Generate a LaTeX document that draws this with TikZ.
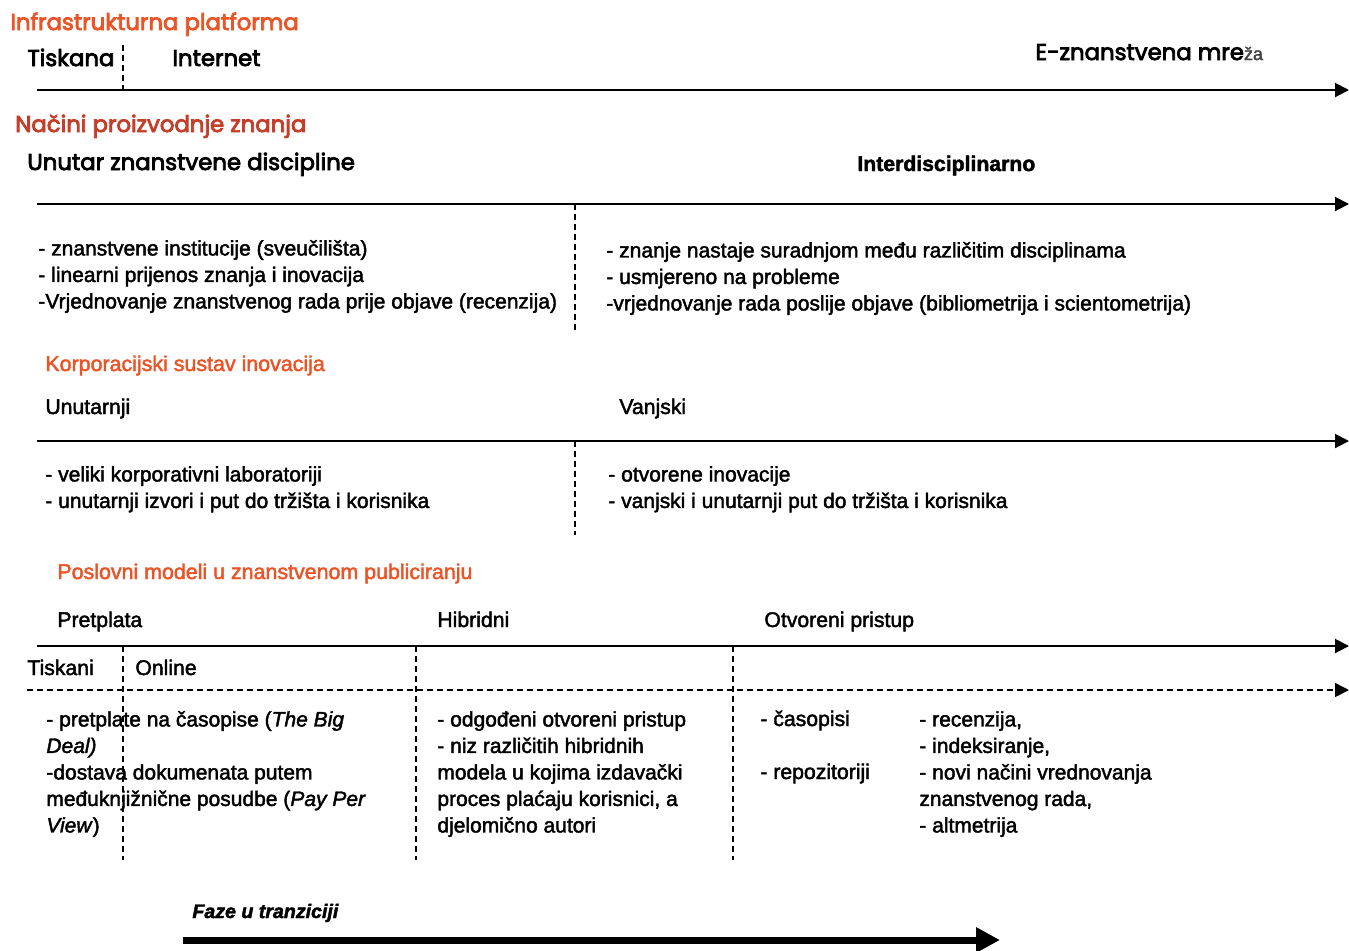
\documentclass[tikz,border=0pt]{standalone}
\usepackage{fontspec}
\setmainfont{Liberation Sans}[FakeBold=2]
\newfontfamily\bodyfont{Liberation Sans}[FakeBold=2]
\newfontfamily\headfont{Poppins}[FakeBold=3.5]
\usetikzlibrary{arrows.meta}
\definecolor{naslovboja}{RGB}{234,84,38}
\definecolor{tamnaboja}{RGB}{196,62,42}

\begin{document}
\begin{tikzpicture}[x=0.5pt, y=-0.5pt,
    os/.style={line width=1pt, -{Triangle[length=7pt,width=7pt]}},
    crta/.style={line width=0.8pt, dash pattern=on 3pt off 2pt},
    glava/.style={anchor=base west, inner sep=0pt, font=\headfont\fontsize{11.4}{13}\selectfont},
    naslov/.style={anchor=base west, inner sep=0pt, text=naslovboja, font=\bodyfont\fontsize{10.7}{12}\selectfont},
    faza/.style={anchor=base west, inner sep=0pt, font=\bodyfont\fontsize{10.6}{13.25}\selectfont},
    tekst/.style={anchor=north west, inner sep=0pt, align=left, font=\bodyfont\fontsize{10.5}{13.25}\selectfont}]
\useasboundingbox (0,0) rectangle (1349,950);

\node[glava, text=naslovboja] (infra) at (10,30) {Infrastrukturna platforma};
\node[glava] (tiskana) at (27,66) {Tiskana};
\node[glava] (internet) at (172,66) {Internet};
\node[glava] (emreza) at (1035,60) {E-znanstvena mre{\bodyfont\fontsize{9}{10}\selectfont\color{black!75}ža}};
\coordinate (os1a) at (37,90);
\coordinate (os1b) at (1349,90);
\coordinate (d1a) at (123,45);
\coordinate (d1b) at (123,90);
\draw[os] (os1a) -- (os1b);
\draw[crta] (d1a) -- (d1b);

\node[glava, text=tamnaboja] (nacini) at (15,132) {Načini proizvodnje znanja};
\node[glava] (unutar) at (27,170) {Unutar znanstvene discipline};
\node[faza, font=\bodyfont\bfseries\fontsize{10.6}{13}\selectfont] (inter) at (857,171) {Interdisciplinarno};
\coordinate (os2a) at (37,204);
\coordinate (os2b) at (1349,204);
\coordinate (d2a) at (575,204);
\coordinate (d2b) at (575,330);
\draw[os] (os2a) -- (os2b);
\draw[crta] (d2a) -- (d2b);
\node[tekst] (disc) at (38,236.5) {\strut- znanstvene institucije (sveučilišta)\\- linearni prijenos znanja i inovacija\\-Vrjednovanje znanstvenog rada prije objave (recenzija)};
\node[tekst] (interdisc) at (606,238.5) {\strut- znanje nastaje suradnjom među različitim disciplinama\\- usmjereno na probleme\\-vrjednovanje rada poslije objave (bibliometrija i scientometrija)};

\node[naslov] (korp) at (45,371) {Korporacijski sustav inovacija};
\node[faza] (unutarnji) at (45,414) {Unutarnji};
\node[faza] (vanjski) at (619,414) {Vanjski};
\coordinate (os3a) at (37,441);
\coordinate (os3b) at (1349,441);
\coordinate (d3a) at (575,441);
\coordinate (d3b) at (575,535);
\draw[os] (os3a) -- (os3b);
\draw[crta] (d3a) -- (d3b);
\node[tekst] (unutarnjitxt) at (45,462.5) {\strut- veliki korporativni laboratoriji\\- unutarnji izvori i put do tržišta i korisnika};
\node[tekst] (vanjskitxt) at (608,462.5) {\strut- otvorene inovacije\\- vanjski i unutarnji put do tržišta i korisnika};

\node[naslov] (modeli) at (57,579) {Poslovni modeli u znanstvenom publiciranju};
\node[faza] (pretplata) at (57,627) {Pretplata};
\node[faza] (hibridni) at (437,627) {Hibridni};
\node[faza] (otvoreni) at (764,627) {Otvoreni pristup};
\node[faza] (tiskani) at (27,675) {Tiskani};
\node[faza] (online) at (135,675) {Online};
\coordinate (os4a) at (37,646);
\coordinate (os4b) at (1349,646);
\coordinate (os5a) at (27,690);
\coordinate (os5b) at (1349,690);
\draw[os] (os4a) -- (os4b);
\draw[os, crta] (os5a) -- (os5b);
\foreach \x/\ime in {123/p, 416/h, 733/o} {
  \coordinate (d\ime a) at (\x,646);
  \coordinate (d\ime b) at (\x,860);
  \draw[crta] (d\ime a) -- (d\ime b);
}
\node[tekst] (pretplatatxt) at (46,707.5) {\strut- pretplate na časopise (\textit{The Big}\\\textit{Deal)}\\-dostava dokumenata putem\\međuknjižnične posudbe (\textit{Pay Per}\\\textit{View})};
\node[tekst] (hibridnitxt) at (437,707.5) {\strut- odgođeni otvoreni pristup\\- niz različitih hibridnih\\modela u kojima izdavački\\proces plaćaju korisnici, a\\djelomično autori};
\node[faza] (casopisi) at (760,726) {- časopisi};
\node[faza] (repozitoriji) at (760,779) {- repozitoriji};
\node[tekst] (otvorenitxt) at (919,707.5) {\strut- recenzija,\\- indeksiranje,\\- novi načini vrednovanja\\znanstvenog rada,\\- altmetrija};

\node[faza, font=\bodyfont\bfseries\itshape\fontsize{9.8}{12}\selectfont] (faze) at (192,918) {Faze u tranziciji};
\coordinate (fazea) at (183,940);
\coordinate (fazeb) at (1000,940);
\draw[line width=3.5pt, -{Triangle[length=12pt,width=12pt]}] (fazea) -- (fazeb);
\end{tikzpicture}
\end{document}
